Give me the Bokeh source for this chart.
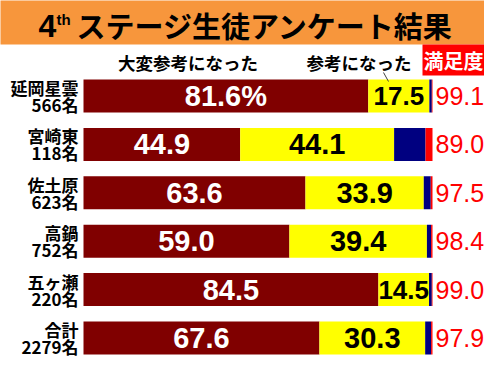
from bokeh.plotting import figure
from bokeh.models import Range1d, ColumnDataSource
from bokeh.core.properties import value
from bokeh.embed import file_html
from bokeh.resources import INLINE

# ---- data ----
schools = ["延岡星雲", "宮崎東", "佐土原", "高鍋", "五ヶ瀬", "合計"]
counts = ["566名", "118名", "623名", "752名", "220名", "2279名"]
very_helpful = [81.6, 44.9, 63.6, 59.0, 84.5, 67.6]
helpful = [17.5, 44.1, 33.9, 39.4, 14.5, 30.3]
not_much = [0.7, 9.0, 2.0, 1.2, 0.8, 1.7]
not_at_all = [0.2, 2.0, 0.5, 0.4, 0.2, 0.4]
satisfaction = [99.1, 89.0, 97.5, 98.4, 99.0, 97.9]
series_names = ["大変参考になった", "参考になった"]
title_main = "ステージ生徒アンケート結果"
sat_label = "満足度"

# ---- layout helpers (pixel -> data) ----
W, H = 484, 358
X_ORIGIN_PX = 83.0
X_END_PX = 432.0
PX_PER_UNIT = (X_END_PX - X_ORIGIN_PX) / 100.0
ROW_PX = 48.4
ROW0_PX = 95.5
x0 = -X_ORIGIN_PX / PX_PER_UNIT
x1 = x0 + W / PX_PER_UNIT
def X(px):
    return x0 + px / PX_PER_UNIT
def Y(px):
    return (px - ROW0_PX) / ROW_PX

p = figure(width=W, height=H, output_backend="svg", toolbar_location=None,
           x_range=Range1d(x0, x1), y_range=Range1d(Y(H), Y(0)),
           x_axis_location=None, y_axis_location=None,
           min_border=0, min_border_left=0, min_border_right=0,
           min_border_top=0, min_border_bottom=0)
p.outline_line_color = None
p.xgrid.visible = False
p.ygrid.visible = False
p.background_fill_color = "white"
p.border_fill_color = "white"

# ---- title band ----
p.quad(left=[X(-5)], right=[X(W + 5)], top=[Y(-5)], bottom=[Y(44)],
       fill_color="#F7963C", line_color=None)
p.text(x=[X(38)], y=[Y(25)], text=["4"], text_font=value("Liberation Sans"),
       text_font_style="bold", text_font_size="32px", text_color="black",
       text_align="left", text_baseline="middle")
p.text(x=[X(56)], y=[Y(19)], text=["th"], text_font=value("Liberation Sans"),
       text_font_style="bold", text_font_size="15px", text_color="black",
       text_align="left", text_baseline="middle")
p.text(x=[X(76)], y=[Y(24)], text=[title_main], text_font=value("Noto Sans CJK JP"),
       text_font_style="bold", text_font_size="29px", text_color="black",
       text_align="left", text_baseline="middle")

# ---- bars ----
rows = list(range(len(schools)))
src = ColumnDataSource(dict(y=rows, a=very_helpful, b=helpful, c=not_much, d=not_at_all))
bar_h = 33 / ROW_PX
p.hbar_stack(["a", "b", "c", "d"], y="y", height=bar_h, source=src,
             color=["#800000", "#FFFF00", "#000080", "#FF0000"], line_color=None)

# value labels
mid_a = [v / 2 for v in very_helpful]
mid_b = [a + b / 2 for a, b in zip(very_helpful, helpful)]
lab_a = [f"{v:.1f}" for v in very_helpful]
lab_a[0] = lab_a[0] + "%"
lab_b = [f"{v:.1f}" for v in helpful]
p.text(x=mid_a, y=rows, text=lab_a, text_font=value("Liberation Sans"), text_font_style="bold",
       text_font_size="29px", text_color="white", text_align="center", text_baseline="middle")
big = [i for i, v in enumerate(helpful) if v >= 20]
small = [i for i, v in enumerate(helpful) if v < 20]
p.text(x=[mid_b[i] for i in big], y=[rows[i] for i in big], text=[lab_b[i] for i in big],
       text_font=value("Liberation Sans"), text_font_style="bold",
       text_font_size="29px", text_color="black", text_align="center", text_baseline="middle")
p.text(x=[mid_b[i] for i in small], y=[rows[i] for i in small], text=[lab_b[i] for i in small],
       text_font=value("Liberation Sans"), text_font_style="bold",
       text_font_size="26px", text_color="black", text_align="center", text_baseline="middle")

# satisfaction
p.text(x=[X(435)] * len(rows), y=rows, text=[f"{v:.1f}" for v in satisfaction],
       text_font=value("Liberation Sans"), text_font_size="25px", text_color="#FF0000",
       text_align="left", text_baseline="middle")

# left labels
p.text(x=[X(78)] * len(rows), y=[r - 8.5 / ROW_PX for r in rows], text=schools,
       text_font=value("Noto Sans CJK JP"), text_font_style="bold", text_font_size="17px",
       text_color="black", text_align="right", text_baseline="middle")
p.text(x=[X(78)] * len(rows), y=[r + 8.5 / ROW_PX for r in rows], text=counts,
       text_font=value("Noto Sans CJK JP"), text_font_style="bold", text_font_size="17px",
       text_color="black", text_align="right", text_baseline="middle")

# legend labels
p.text(x=[X(187.5), X(358.5)], y=[Y(62), Y(62)], text=series_names,
       text_font=value("Noto Sans CJK JP"), text_font_style="bold", text_font_size="17.5px",
       text_color="black", text_align="center", text_baseline="middle")
p.segment(x0=[X(383)], y0=[Y(72)], x1=[X(388)], y1=[Y(81)], line_color="#404040", line_width=1)
p.quad(left=[X(422)], right=[X(W + 5)], top=[Y(44)], bottom=[Y(75)],
       fill_color="#FF0000", line_color=None)
p.text(x=[X(453)], y=[Y(60)], text=[sat_label], text_font=value("Noto Sans CJK JP"),
       text_font_style="bold", text_font_size="20px", text_color="white",
       text_align="center", text_baseline="middle")

open("out.html", "w").write(file_html(p, INLINE))
